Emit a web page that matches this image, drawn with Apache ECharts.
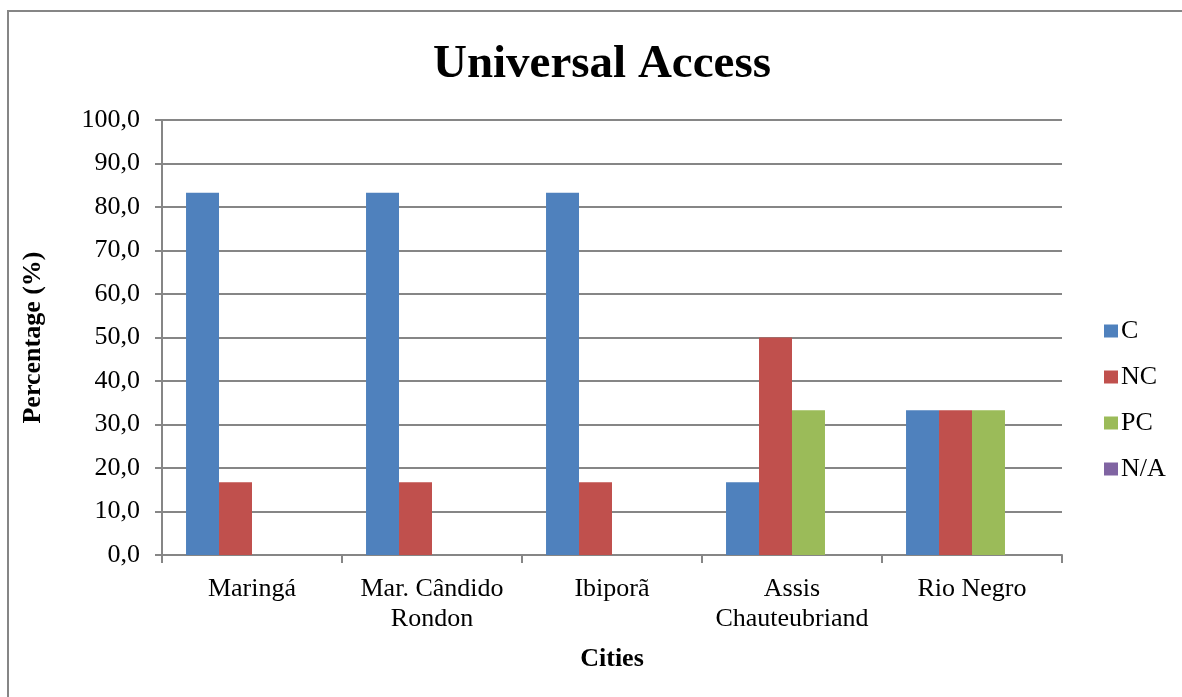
<!DOCTYPE html>
<html>
<head>
<meta charset="utf-8">
<script src="https://cdn.jsdelivr.net/npm/echarts@6/dist/echarts.min.js"></script>
<style>
  html, body { margin: 0; padding: 0; background: #fff; }
  #chart { width: 1182px; height: 697px; }
</style>
</head>
<body>
<div id="chart"></div>
<script>
// Cities surveyed and share of items per compliance class
const cities = ['Maringá', 'Mar. Cândido\nRondon', 'Ibiporã', 'Assis\nChauteubriand', 'Rio Negro'];
const seriesNames = ['C', 'NC', 'PC', 'N/A'];
const valuesC  = [83.3, 83.3, 83.3, 16.7, 33.3];
const valuesNC = [16.7, 16.7, 16.7, 50.0, 33.3];
const valuesPC = [0, 0, 0, 33.3, 33.3];
const valuesNA = [0, 0, 0, 0, 0];
const colors = ['#4F81BD', '#C0504D', '#9BBB59', '#8064A2'];

const FONT = '"Liberation Serif", "Times New Roman", serif';
const GRID = '#868686';

const chart = echarts.init(document.getElementById('chart'), null, { renderer: 'canvas' });

const allValues = [valuesC, valuesNC, valuesPC, valuesNA];

chart.setOption({
  animation: false,
  backgroundColor: '#fff',
  textStyle: { fontFamily: FONT },
  title: {
    text: 'Universal Access',
    left: 597,
    textAlign: 'center',
    top: 36,
    textStyle: { fontFamily: FONT, fontSize: 47, fontWeight: 'bold', color: '#000' }
  },
  legend: {
    orient: 'vertical',
    left: 1099,
    top: 313,
    itemWidth: 14,
    itemHeight: 13,
    itemGap: 20,
    icon: 'rect',
    textStyle: { fontFamily: FONT, fontSize: 26, color: '#000', padding: [0, 0, 0, -2] },
    data: seriesNames
  },
  grid: { left: 162, right: 120, top: 120, bottom: 142, containLabel: false },
  xAxis: {
    type: 'category',
    data: cities,
    name: 'Cities',
    nameLocation: 'middle',
    nameGap: 91,
    nameTextStyle: { fontFamily: FONT, fontSize: 26, fontWeight: 'bold', color: '#000' },
    axisLine: { lineStyle: { color: GRID, width: 2 } },
    axisTick: { show: true, interval: 0, length: 8, lineStyle: { color: GRID, width: 2 } },
    axisLabel: {
      interval: 0, hideOverlap: false,
      fontFamily: FONT, fontSize: 26, color: '#000', margin: 19, lineHeight: 30
    }
  },
  yAxis: {
    type: 'value',
    min: 0,
    max: 100,
    interval: 10,
    name: 'Percentage (%)',
    nameLocation: 'middle',
    nameGap: 116,
    nameRotate: 90,
    nameTextStyle: { fontFamily: FONT, fontSize: 26, fontWeight: 'bold', color: '#000' },
    axisLine: { show: true, lineStyle: { color: GRID, width: 2 } },
    axisTick: { show: true, length: 7, lineStyle: { color: GRID, width: 2 } },
    splitLine: { lineStyle: { color: GRID, width: 2 } },
    axisLabel: {
      fontFamily: FONT, fontSize: 26, color: '#000', margin: 22,
      formatter: v => v.toFixed(1).replace('.', ',')
    }
  },
  series: seriesNames.map((name, i) => ({
    name,
    type: 'bar',
    data: allValues[i],
    barGap: '0%',
    barCategoryGap: '26.7%',
    itemStyle: { color: colors[i] }
  })),
  graphic: [{
    type: 'rect',
    shape: { x: 8, y: 11, width: 1300, height: 800 },
    style: { fill: 'none', stroke: '#868686', lineWidth: 2 },
    z: -1,
    silent: true
  }]
});
</script>
</body>
</html>
